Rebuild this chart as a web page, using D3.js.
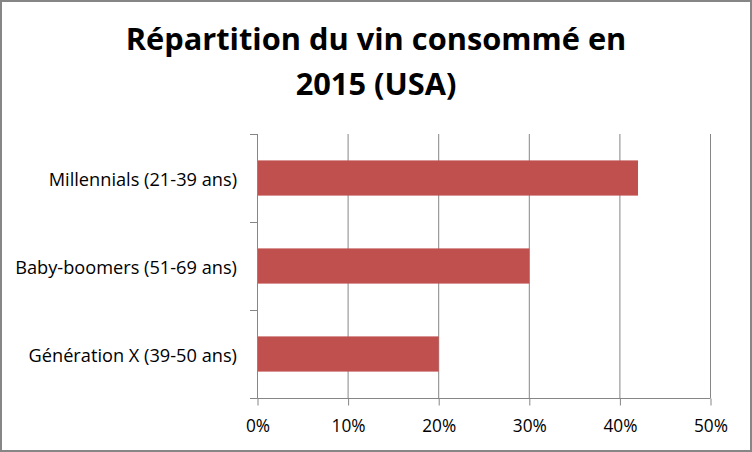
<!DOCTYPE html>
<html><head><meta charset="utf-8">
<script src="https://cdn.jsdelivr.net/npm/d3@7"></script>
<style>body{margin:0;background:#fff}svg{display:block}</style>
</head><body>
<svg id="c" width="752" height="452"></svg>
<script>
const categories = ["Millennials (21-39 ans)", "Baby-boomers (51-69 ans)", "Génération X (39-50 ans)"];
const values = [0.42, 0.30, 0.20];
const xTicks = [0, 0.1, 0.2, 0.3, 0.4, 0.5];
const titleLines = ["Répartition du vin consommé en", "2015 (USA)"];

const svg = d3.select("#c");
const FONT = "'Open Sans', Lato, sans-serif";
const GREY = "#868686";
svg.append("rect").attr("width", 752).attr("height", 452).attr("fill", "#fff");
svg.append("rect").attr("x", 1).attr("y", 1).attr("width", 750).attr("height", 450)
  .attr("fill", "none").attr("stroke", GREY).attr("stroke-width", 2);

const x = d3.scaleLinear().domain([0, 0.5]).range([257.5, 710.5]);
const y = d3.scaleBand().domain(categories).range([134, 398]).paddingInner(0.6).paddingOuter(0.3);

// fit a selection's font size so that its nodes reach a target total width
function fit(sel, nodes, target, base) {
  const w = d3.sum(nodes, n => n.getComputedTextLength());
  sel.attr("font-size", base * target / w);
}

// gridlines
svg.append("g").selectAll("line").data(xTicks.slice(1)).join("line")
  .attr("x1", d => x(d)).attr("x2", d => x(d)).attr("y1", 134).attr("y2", 398)
  .attr("stroke", GREY).attr("stroke-width", 1);

// bars
svg.append("g").selectAll("rect").data(values).join("rect")
  .attr("x", x(0)).attr("y", (d, i) => y(categories[i]))
  .attr("width", d => x(d) - x(0)).attr("height", y.bandwidth())
  .attr("fill", "#C0504D");

// x axis
const xAxis = d3.axisBottom(x).tickValues(xTicks).tickFormat(d3.format(".0%")).tickSize(7).tickPadding(0);
const gx = svg.append("g").attr("transform", "translate(0,398.5)").call(xAxis);
gx.select(".domain").attr("stroke", GREY).attr("d", `M${x(0)},0H${x(0.5)}`);
gx.selectAll(".tick line").attr("stroke", GREY);
const xt = gx.selectAll("text").attr("font-family", FONT).attr("font-size", 16).attr("fill", "#000")
  .attr("dy", null).attr("y", 33.5);
fit(xt, [xt.nodes()[1]], 34, 16);

// y axis: ticks at band boundaries
const boundaries = [134, 222, 310, 398];
svg.append("g").selectAll("line").data(boundaries).join("line")
  .attr("x1", 250).attr("x2", 257.5).attr("y1", d => d + 0.5).attr("y2", d => d + 0.5)
  .attr("stroke", GREY);
svg.append("line").attr("x1", 257.5).attr("x2", 257.5).attr("y1", 134).attr("y2", 398.5).attr("stroke", GREY);
const yl = svg.append("g").selectAll("text").data(categories).join("text")
  .attr("x", 237).attr("y", d => y(d) + y.bandwidth() / 2 + 7.5)
  .attr("text-anchor", "end").attr("font-family", FONT).attr("font-size", 16).attr("fill", "#000")
  .text(d => d);
fit(yl, yl.nodes(), 619, 16);

// title
const tt = svg.append("g").selectAll("text").data(titleLines).join("text")
  .attr("x", 376).attr("y", (d, i) => 50 + i * 45)
  .attr("text-anchor", "middle").attr("font-family", FONT).attr("font-weight", "bold")
  .attr("font-size", 28).attr("fill", "#000").text(d => d);
fit(tt, [tt.nodes()[0]], 501, 28);
</script>
</body></html>
